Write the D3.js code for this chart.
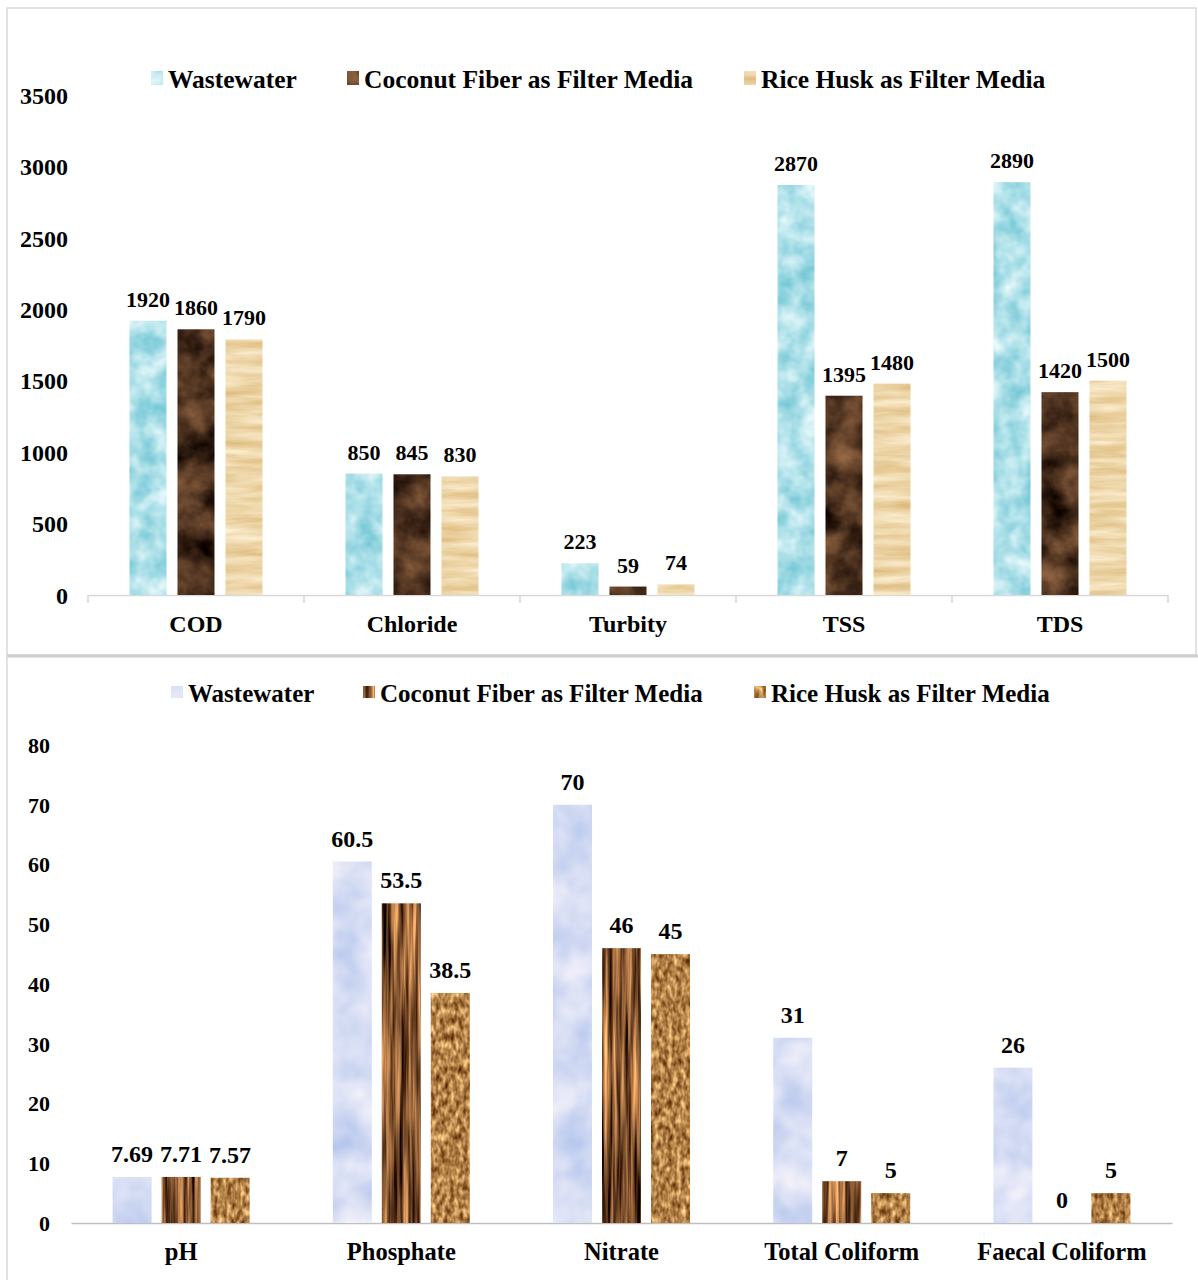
<!DOCTYPE html>
<html>
<head>
<meta charset="utf-8">
<script src="https://cdn.jsdelivr.net/npm/d3@7"></script>
<style>
  html, body { margin: 0; padding: 0; background: #fff; }
  svg text { font-family: "Liberation Serif", "Times New Roman", serif; font-weight: bold; fill: #000; }
</style>
</head>
<body>
<svg id="chart" width="1198" height="1280"></svg>
<script>
// ---- data -------------------------------------------------------------
const seriesNames = ["Wastewater", "Coconut Fiber as Filter Media", "Rice Husk as Filter Media"];

const topCategories = ["COD", "Chloride", "Turbity", "TSS", "TDS"];
const topWastewater = [1920, 850, 223, 2870, 2890];
const topCoconut    = [1860, 845, 59, 1395, 1420];
const topRiceHusk   = [1790, 830, 74, 1480, 1500];
const topTicks      = [0, 500, 1000, 1500, 2000, 2500, 3000, 3500];

const bottomCategories = ["pH", "Phosphate", "Nitrate", "Total Coliform", "Faecal Coliform"];
const bottomWastewater = [7.69, 60.5, 70, 31, 26];
const bottomCoconut    = [7.71, 53.5, 46, 7, 0];
const bottomRiceHusk   = [7.57, 38.5, 45, 5, 5];
const bottomTicks      = [0, 10, 20, 30, 40, 50, 60, 70, 80];

// ---- textures ---------------------------------------------------------
const svg = d3.select("#chart");
const defs = svg.append("defs");

// material textures built from turbulence noise mapped into a colour ramp
const textures = [
  { id: "tex-top-water",  freq: "0.045",      oct: 3, lo: "#78c9d7", hi: "#e2f7fa", c: 1.6, seed: 3 },
  { id: "tex-top-coco",   freq: "0.03",       oct: 4, lo: "#1e0f07", hi: "#7e5638", c: 2.0, seed: 7 },
  { id: "tex-top-rice",   freq: "0.015 0.12", oct: 3, lo: "#dfbd80", hi: "#fbeed0", c: 1.5, seed: 11 },
  { id: "tex-bot-water",  freq: "0.025",      oct: 3, lo: "#bccbee", hi: "#f3f1fa", c: 1.5, seed: 5 },
  { id: "tex-bot-coco",   freq: "0.22 0.008", oct: 3, lo: "#2c1204", hi: "#d8965a", c: 2.4, seed: 9 },
  { id: "tex-bot-rice",   freq: "0.22 0.12",  oct: 2, lo: "#7a4a1c", hi: "#eab874", c: 2.3, seed: 13 }
];

textures.forEach(t => {
  const lo = d3.rgb(t.lo), hi = d3.rgb(t.hi);
  const row = ch => {
    const d = (hi[ch] - lo[ch]) / 255 * t.c;
    const mid = (lo[ch] + hi[ch]) / 2 / 255;
    return [d, 0, 0, 0, mid - 0.5 * d].join(" ");
  };
  const f = defs.append("filter")
    .attr("id", t.id)
    .attr("x", 0).attr("y", 0).attr("width", 1).attr("height", 1)
    .attr("color-interpolation-filters", "sRGB");
  f.append("feTurbulence")
    .attr("type", "fractalNoise")
    .attr("baseFrequency", t.freq)
    .attr("numOctaves", t.oct)
    .attr("seed", t.seed)
    .attr("result", "noise");
  f.append("feColorMatrix")
    .attr("in", "noise")
    .attr("type", "matrix")
    .attr("values", [row("r"), row("g"), row("b"), "0 0 0 0 1"].join(" "))
    .attr("result", "tint");
  f.append("feComposite")
    .attr("in", "tint").attr("in2", "SourceGraphic").attr("operator", "in");
});

// ---- panel frames -----------------------------------------------------
svg.append("rect")
  .attr("x", 7).attr("y", 8).attr("width", 1189).attr("height", 647)
  .attr("fill", "none").attr("stroke", "#d9d9d9").attr("stroke-width", 1.5);
svg.append("line")
  .attr("x1", 7).attr("x2", 1198).attr("y1", 656).attr("y2", 656)
  .attr("stroke", "#cfcfcf").attr("stroke-width", 3);
svg.append("line")
  .attr("x1", 7).attr("x2", 7).attr("y1", 656).attr("y2", 1280)
  .attr("stroke", "#d9d9d9").attr("stroke-width", 1.5);

// ---- generic grouped bar chart -----------------------------------------
function drawChart(cfg) {
  const g = svg.append("g");
  const series = cfg.series;

  const y = d3.scaleLinear().domain(cfg.yDomain).range([cfg.y0, cfg.y1]);
  const x0 = d3.scaleBand().domain(cfg.categories).range(cfg.xRange).padding(0);
  const x1 = d3.scaleBand().domain(d3.range(series.length))
    .range([0, cfg.groupWidth]).paddingInner(cfg.innerPad).paddingOuter(0);
  const groupOffset = (x0.bandwidth() - cfg.groupWidth) / 2;

  // y tick labels (no axis line)
  const yAxis = d3.axisLeft(y).tickValues(cfg.ticks).tickFormat(d3.format("d"))
    .tickSize(0).tickPadding(0);
  const ya = g.append("g").attr("transform", `translate(${cfg.yLabelRight},0)`).call(yAxis);
  ya.select(".domain").remove();
  ya.selectAll("text")
    .attr("font-family", null).attr("fill", "#000")
    .style("font-size", cfg.tickFont + "px")
    .attr("dy", "0.34em");

  // x axis baseline with category labels
  const xAxis = d3.axisBottom(x0).tickSize(0).tickPadding(0);
  const xa = g.append("g").attr("transform", `translate(0,${cfg.y0})`).call(xAxis);
  xa.select(".domain").attr("stroke", cfg.axisColor).attr("stroke-width", 1.5);
  xa.selectAll("text")
    .attr("font-family", null).attr("fill", "#000")
    .style("font-size", cfg.catFont + "px")
    .attr("y", cfg.catDy).attr("dy", "0");

  // boundary tick marks between categories
  if (cfg.boundaryTicks) {
    const bounds = cfg.categories.map(c => x0(c)).concat([cfg.xRange[1]]);
    g.selectAll("line.bound").data(bounds).join("line")
      .attr("class", "bound")
      .attr("x1", d => d).attr("x2", d => d)
      .attr("y1", cfg.y0).attr("y2", cfg.y0 + 8)
      .attr("stroke", cfg.axisColor).attr("stroke-width", 1.5);
  }

  // bars
  series.forEach((s, si) => {
    const sg = g.append("g");
    const rows = cfg.categories.map((c, i) => ({ c, v: s.values[i] }));
    sg.selectAll("rect").data(rows).join("rect")
      .attr("x", d => x0(d.c) + groupOffset + x1(si))
      .attr("y", d => y(d.v))
      .attr("width", x1.bandwidth())
      .attr("height", d => y(0) - y(d.v))
      .attr("fill", "#888")
      .attr("filter", `url(#${s.tex})`);
    sg.selectAll("text").data(rows).join("text")
      .attr("x", d => x0(d.c) + groupOffset + x1(si) + x1.bandwidth() / 2)
      .attr("y", d => y(d.v) - cfg.valueGap)
      .attr("text-anchor", "middle")
      .style("font-size", cfg.valueFont + "px")
      .text(d => d.v);
  });

  // legend
  const lg = g.append("g");
  series.forEach((s, si) => {
    const lx = cfg.legendX[si];
    lg.append("rect")
      .attr("x", lx).attr("y", cfg.legendY - cfg.swatchH / 2 - 1)
      .attr("width", cfg.swatchW).attr("height", cfg.swatchH)
      .attr("fill", "#888").attr("filter", `url(#${s.tex})`);
    lg.append("text")
      .attr("x", lx + cfg.swatchW + 5).attr("y", cfg.legendY)
      .attr("dy", "0.34em")
      .style("font-size", cfg.legendFont + "px")
      .text(s.name);
  });
}

drawChart({
  categories: topCategories,
  series: [
    { name: seriesNames[0], values: topWastewater, tex: "tex-top-water" },
    { name: seriesNames[1], values: topCoconut,    tex: "tex-top-coco" },
    { name: seriesNames[2], values: topRiceHusk,   tex: "tex-top-rice" }
  ],
  yDomain: [0, 3500], ticks: topTicks,
  y0: 595, y1: 95,
  xRange: [88, 1168], groupWidth: 133, innerPad: 0.229,
  yLabelRight: 68, tickFont: 24, catFont: 24, catDy: 37, valueFont: 22, valueGap: 14,
  axisColor: "#d9d9d9", boundaryTicks: true,
  legendX: [151, 347, 744], legendY: 79, swatchW: 12, swatchH: 14, legendFont: 25.5
});

drawChart({
  categories: bottomCategories,
  series: [
    { name: seriesNames[0], values: bottomWastewater, tex: "tex-bot-water" },
    { name: seriesNames[1], values: bottomCoconut,    tex: "tex-bot-coco" },
    { name: seriesNames[2], values: bottomRiceHusk,   tex: "tex-bot-rice" }
  ],
  yDomain: [0, 80], ticks: bottomTicks,
  y0: 1223, y1: 745,
  xRange: [71, 1172], groupWidth: 137, innerPad: 0.204,
  yLabelRight: 50, tickFont: 22, catFont: 24.5, catDy: 37, valueFont: 24, valueGap: 15,
  axisColor: "#bfbfbf", boundaryTicks: false,
  legendX: [171, 363, 754], legendY: 693, swatchW: 12, swatchH: 12, legendFont: 25
});
</script>
</body>
</html>
